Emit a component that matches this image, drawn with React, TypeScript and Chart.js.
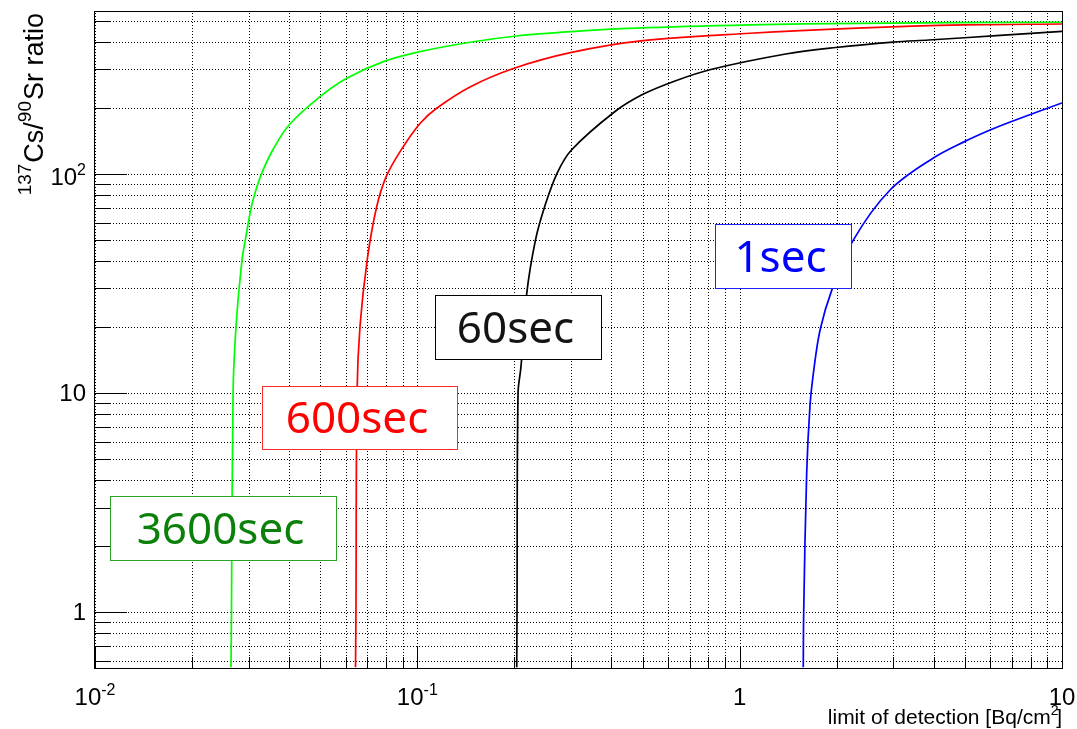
import React, { useEffect, useRef } from 'react';
import { Chart, registerables } from 'chart.js';

Chart.register(...registerables);

// ---- axis ranges ----
const X_MIN = 0.01;
const X_MAX = 10;
const Y_MIN = 0.555;
const Y_MAX = 549;

// ---- series ----
const x3600 = [0.02642, 0.02651, 0.02681, 0.02739, 0.02858, 0.02927, 0.03041, 0.03136, 0.0329, 0.03574, 0.040, 0.0499, 0.0604, 0.0785, 0.1019, 0.1457, 0.203, 0.3007, 0.476, 1.077, 2.313, 9.7, 10];
const y3600 = [0.56, 1, 10, 20.2, 40.5, 50, 68.5, 81.9, 100.7, 130, 167.4, 225.4, 273.5, 325.7, 361.7, 399.4, 426.6, 446.5, 463, 479, 487.6, 492.8, 493];

const x600 = [0.0643, 0.0645, 0.0650, 0.0664, 0.0700, 0.0748, 0.0800, 0.0884, 0.1019, 0.1148, 0.1457, 0.1986, 0.3007, 0.501, 1.077, 2.313, 4.97, 10];
const y600 = [0.56, 1, 10, 20.2, 41.2, 70.9, 97, 126.5, 170, 199.5, 249.6, 303, 358.8, 406, 439, 463, 479, 484];

const x60 = [0.2034, 0.2038, 0.2053, 0.2097, 0.2185, 0.2326, 0.2483, 0.2713, 0.3007, 0.4086, 0.501, 0.6303, 0.8135, 1.39, 1.987, 2.99, 3.86, 6.43, 10];
const y60 = [0.56, 1, 10, 13.2, 28.5, 50, 70.9, 100.7, 128.7, 191.9, 231, 265.9, 300, 353, 378, 400, 409, 429, 447.5];

const x1 = [1.575, 1.58, 1.614, 1.652, 1.693, 1.776, 1.931, 2.254, 2.928, 3.99, 4.98, 5.98, 6.94, 10];
const y1 = [0.56, 1, 4.3, 8.66, 12.3, 19.4, 29.5, 50, 84.5, 118.3, 140.5, 158.8, 173.3, 211];

// ---- grid / tick values ----
const xGridValues = [0.01, 0.02, 0.03, 0.04, 0.05, 0.06, 0.07, 0.08, 0.09, 0.1, 0.2, 0.3, 0.4, 0.5, 0.6, 0.7, 0.8, 0.9, 1, 2, 3, 4, 5, 6, 7, 8, 9, 10];
const yGridValues = [0.6, 0.7, 0.8, 0.9, 1, 2, 3, 4, 5, 6, 7, 8, 9, 10, 20, 30, 40, 50, 60, 70, 80, 90, 100, 200, 300, 400, 500];
const xMajorValues = [0.01, 0.1, 1, 10];
const xMajorLabels = [['10', '-2'], ['10', '-1'], ['1', ''], ['10', '']];
const yMajorValues = [1, 10, 100];
const yMajorLabels = [['1', ''], ['10', ''], ['10', '2']];

const boxLabels = [
  { text: '3600sec', color: '#0b800b', border: '#2aa52a', box: [110, 496, 337, 561] },
  { text: '600sec', color: '#ff0000', border: '#ff2a2a', box: [262, 386, 458, 450] },
  { text: '60sec', color: '#141414', border: '#000000', box: [435, 295, 602, 360] },
  { text: '1sec', color: '#0000ff', border: '#2020ff', box: [715, 224, 852, 289] },
];

const AXIS_FONT = '"Liberation Sans", Arial, sans-serif';
const BOX_FONT = '"Noto Sans", "Open Sans", sans-serif';

function drawPow(ctx: CanvasRenderingContext2D, base: string, exp: string, x: number, baseline: number, align: 'left' | 'center' | 'right', size: number, supSize: number, raise: number) {
  ctx.font = `${size}px ${AXIS_FONT}`;
  const wb = ctx.measureText(base).width;
  ctx.font = `${supSize}px ${AXIS_FONT}`;
  const we = exp ? ctx.measureText(exp).width : 0;
  const total = wb + we;
  let start = x;
  if (align === 'center') start = x - total / 2;
  else if (align === 'right') start = x - total;
  ctx.textAlign = 'left';
  ctx.textBaseline = 'alphabetic';
  ctx.font = `${size}px ${AXIS_FONT}`;
  ctx.fillText(base, start, baseline);
  if (exp) {
    ctx.font = `${supSize}px ${AXIS_FONT}`;
    ctx.fillText(exp, start + wb, baseline - raise);
  }
}

const gridPlugin = {
  id: 'rootGrid',
  beforeDatasetsDraw(chart: any) {
    const { ctx, chartArea } = chart;
    const { left, right, top, bottom } = chartArea;
    const xs = chart.scales.x;
    const ys = chart.scales.y;
    ctx.save();
    ctx.strokeStyle = '#000';
    ctx.lineWidth = 1;
    ctx.setLineDash([1, 2]);
    xGridValues.forEach((v) => {
      const px = Math.round(xs.getPixelForValue(v)) + 0.5;
      ctx.beginPath();
      ctx.moveTo(px, bottom);
      ctx.lineTo(px, top);
      ctx.stroke();
    });
    yGridValues.forEach((v) => {
      const py = Math.round(ys.getPixelForValue(v)) + 0.5;
      ctx.beginPath();
      ctx.moveTo(left, py);
      ctx.lineTo(right, py);
      ctx.stroke();
    });
    ctx.restore();
  },
};

const decorPlugin = {
  id: 'rootDecor',
  afterDraw(chart: any) {
    const { ctx, chartArea } = chart;
    const { left, right, top, bottom } = chartArea;
    const xs = chart.scales.x;
    const ys = chart.scales.y;
    ctx.save();
    ctx.strokeStyle = '#000';
    ctx.lineWidth = 1;
    ctx.setLineDash([]);
    // frame
    ctx.strokeRect(Math.round(left) - 0.5, Math.round(top) - 0.5, Math.round(right - left) + 1, Math.round(bottom - top) + 1);
    // y ticks
    yGridValues.forEach((v) => {
      const py = Math.round(ys.getPixelForValue(v)) + 0.5;
      const major = yMajorValues.includes(v);
      const len = major ? 32 : 16;
      ctx.beginPath();
      ctx.moveTo(left, py);
      ctx.lineTo(left + len, py);
      ctx.stroke();
    });
    // x ticks
    xGridValues.forEach((v) => {
      const px = Math.round(xs.getPixelForValue(v)) + 0.5;
      const major = xMajorValues.includes(v);
      const len = major ? 22 : 11;
      ctx.beginPath();
      ctx.moveTo(px, bottom);
      ctx.lineTo(px, bottom - len);
      ctx.stroke();
    });
    ctx.fillStyle = '#000';
    // x labels
    xMajorValues.forEach((v, i) => {
      const px = xs.getPixelForValue(v);
      const [b, e] = xMajorLabels[i];
      drawPow(ctx, b, e, px, 705, 'center', 24, 16, 10);
    });
    // y labels
    yMajorValues.forEach((v, i) => {
      const py = ys.getPixelForValue(v);
      const [b, e] = yMajorLabels[i];
      drawPow(ctx, b, e, 86, py + (e ? 11 : 8.5), 'right', 24, 16, 10);
    });
    // x title
    {
      const size = 21;
      const sup = 14;
      ctx.font = `${size}px ${AXIS_FONT}`;
      const p1 = 'limit of detection [Bq/cm';
      const p3 = ']';
      const w1 = ctx.measureText(p1).width;
      const w3 = ctx.measureText(p3).width;
      ctx.font = `${sup}px ${AXIS_FONT}`;
      const w2 = ctx.measureText('2').width;
      const total = w1 + w2 * 0.7 + w3;
      const start = right - total;
      const bl = 724;
      ctx.textAlign = 'left';
      ctx.font = `${size}px ${AXIS_FONT}`;
      ctx.fillText(p1, start, bl);
      ctx.font = `${sup}px ${AXIS_FONT}`;
      ctx.fillText('2', start + w1, bl - 9);
      ctx.font = `${size}px ${AXIS_FONT}`;
      ctx.fillText(p3, start + w1 + w2 * 0.7, bl);
    }
    // y title (rotated)
    {
      const size = 27;
      const sup = 19;
      const pieces: [string, boolean][] = [['137', true], ['Cs/', false], ['90', true], ['Sr ratio', false]];
      const widths = pieces.map(([t, s]) => {
        ctx.font = `${s ? sup : size}px ${AXIS_FONT}`;
        return ctx.measureText(t).width + (s ? 1 : 0);
      });
      const total = widths.reduce((a, b) => a + b, 0);
      ctx.save();
      ctx.translate(43, top + 1);
      ctx.rotate(-Math.PI / 2);
      let cx = -total;
      ctx.textAlign = 'left';
      pieces.forEach(([t, s], i) => {
        ctx.font = `${s ? sup : size}px ${AXIS_FONT}`;
        ctx.fillText(t, cx, s ? -12 : 0);
        cx += widths[i];
      });
      ctx.restore();
    }
    // label boxes
    boxLabels.forEach((b) => {
      const [x0, y0, x1b, y1b] = b.box;
      ctx.fillStyle = '#ffffff';
      ctx.fillRect(x0, y0, x1b - x0, y1b - y0);
      ctx.strokeStyle = b.border;
      ctx.lineWidth = 1;
      ctx.strokeRect(x0 + 0.5, y0 + 0.5, x1b - x0 - 1, y1b - y0 - 1);
      ctx.fillStyle = b.color;
      ctx.font = `44px ${BOX_FONT}`;
      ctx.textAlign = 'center';
      ctx.textBaseline = 'alphabetic';
      ctx.fillText(b.text, (x0 + x1b) / 2 - 3, (y0 + y1b) / 2 + 15);
    });
    ctx.restore();
  },
};

function makeSeries(xs: number[], ys: number[]) {
  return xs.map((x, i) => ({ x, y: ys[i] }));
}

export default function App() {
  const ref = useRef<HTMLCanvasElement | null>(null);
  useEffect(() => {
    if (!ref.current) return;
    const setTicks = (values: number[]) => (scale: any) => {
      scale.ticks = values.map((v) => ({ value: v }));
    };
    const zeroFit = (scale: any) => {
      if (scale.isHorizontal()) scale.height = 0;
      else scale.width = 0;
    };
    const ds = (label: string, xs: number[], ys: number[], color: string) => ({
      label,
      data: makeSeries(xs, ys),
      borderColor: color,
      backgroundColor: color,
      borderWidth: 1.7,
      pointRadius: 0,
      showLine: true,
      fill: false,
      tension: 0.35,
    });
    const chart = new Chart(ref.current, {
      type: 'scatter',
      data: {
        datasets: [
          ds('3600sec', x3600, y3600, '#00ff00'),
          ds('600sec', x600, y600, '#ff0000'),
          ds('60sec', x60, y60, '#000000'),
          ds('1sec', x1, y1, '#0000ff'),
        ],
      },
      options: {
        responsive: false,
        animation: false,
        events: [],
        layout: { padding: { left: 95, top: 12, right: 15, bottom: 61 } },
        plugins: { legend: { display: false }, tooltip: { enabled: false }, title: { display: false } },
        scales: {
          x: {
            type: 'logarithmic',
            min: X_MIN,
            max: X_MAX,
            afterBuildTicks: setTicks(xGridValues),
            afterFit: zeroFit,
            ticks: { display: false },
            border: { display: false },
            grid: { display: false },
          },
          y: {
            type: 'logarithmic',
            min: Y_MIN,
            max: Y_MAX,
            afterBuildTicks: setTicks(yGridValues),
            afterFit: zeroFit,
            ticks: { display: false },
            border: { display: false },
            grid: { display: false },
          },
        },
      },
      plugins: [gridPlugin, decorPlugin],
    });
    return () => chart.destroy();
  }, []);
  return (
    <div style={{ position: 'absolute', left: 0, top: 0, width: 1077, height: 729, background: '#fff' }}>
      <canvas ref={ref} width={1077} height={729} style={{ display: 'block' }} />
    </div>
  );
}
